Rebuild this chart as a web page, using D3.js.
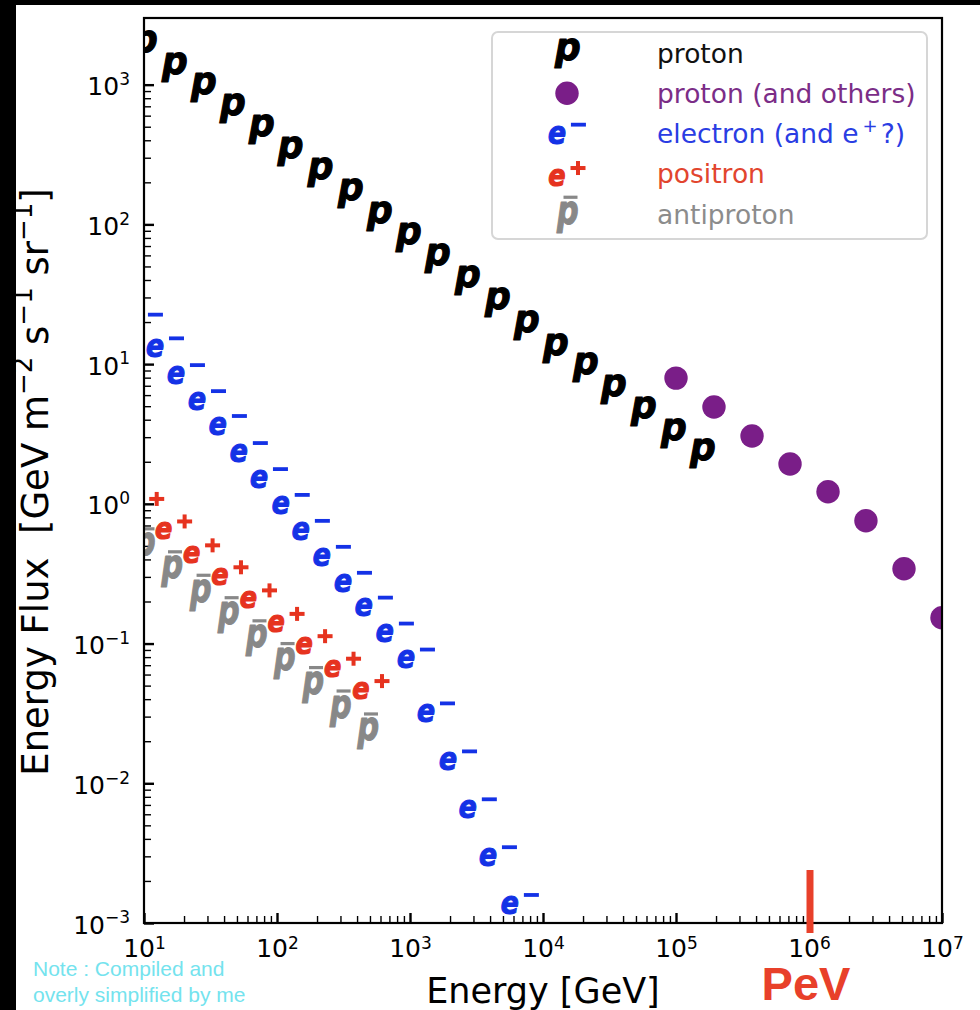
<!DOCTYPE html>
<html>
<head>
<meta charset="utf-8">
<script src="https://cdnjs.cloudflare.com/ajax/libs/d3/7.8.5/d3.min.js"></script>
<style>
  body { margin: 0; background: #000; }
  svg { display: block; }
</style>
</head>
<body>
<svg id="chart" width="980" height="1010"></svg>
<script>
// values: energy in GeV, energy flux in GeV m^-2 s^-1 sr^-1
const protonEnergy = [10, 16.8, 27.8, 45.9, 75.9, 125, 210, 354, 585, 966, 1600, 2690, 4510, 7450, 12300, 20700, 33600, 56400, 94900, 157000];
const protonFlux = [1900, 1320, 952, 674, 477, 332, 235, 166, 114, 80.7, 57.1, 39.8, 27.7, 19.0, 13.0, 9.52, 6.63, 4.61, 3.21, 2.31];

const allEnergy = [1e5, 1.93e5, 3.73e5, 7.2e5, 1.39e6, 2.68e6, 5.18e6, 1e7];
const allFlux = [7.94, 4.93, 3.06, 1.93, 1.22, 0.756, 0.343, 0.153];

const electronEnergy = [10, 14.4, 20.7, 29.8, 42.8, 61.5, 87.1, 127, 180, 259, 373, 536, 771, 1110, 1570, 2300, 3240, 4590, 6710];
const electronFlux = [19.5, 13.2, 8.49, 5.53, 3.67, 2.35, 1.53, 1.0, 0.652, 0.425, 0.277, 0.184, 0.120, 0.0782, 0.0322, 0.0146, 0.00663, 0.00301, 0.00137];

const positronEnergy = [10.3, 16.7, 27.1, 44.3, 72.6, 117, 190, 311, 509];
const positronFlux = [0.984, 0.679, 0.458, 0.319, 0.218, 0.148, 0.1025, 0.0707, 0.0489];

const antiprotonEnergy = [10, 16.1, 26.4, 42.9, 69.5, 113, 185, 298, 479];
const antiprotonFlux = [0.501, 0.343, 0.233, 0.161, 0.110, 0.0756, 0.0509, 0.0346, 0.0237];

const xTickExps = [1, 2, 3, 4, 5, 6, 7];
const yTickExps = [-3, -2, -1, 0, 1, 2, 3];

const legendLabels = ["proton", "proton (and others)", "electron (and e", "positron", "antiproton"];
const pevEnergy = 1e6;

const W = 980, H = 1010;
const margin = { top: 18, right: 38, bottom: 87, left: 144 };
const plot = { width: W - margin.left - margin.right, height: H - margin.top - margin.bottom };
const colors = { proton: "#000", all: "#7a1e88", electron: "#1432e6", positron: "#e6331f", antiproton: "#888888" };
const FONT = "DejaVu Sans";

const svg = d3.select("#chart");
svg.append("rect").attr("x", 16).attr("y", 5).attr("width", W - 16).attr("height", H - 5).attr("fill", "#fff");

svg.append("defs").append("clipPath").attr("id", "plotClip")
  .append("rect").attr("width", plot.width).attr("height", plot.height);

const x = d3.scaleLog().domain([10, 1e7]).range([0, plot.width]);
const y = d3.scaleLog().domain([1e-3, 3000]).range([plot.height, 0]);

const g = svg.append("g").attr("transform", `translate(${margin.left},${margin.top})`);

// ---- axes ----
const expText = (e) => (e < 0 ? "\u2212" + -e : String(e));

const xMinor = x.ticks().filter((v) => Math.abs(Math.log10(v) % 1) > 1e-6);
const yMinor = y.ticks().filter((v) => Math.abs(Math.log10(v) % 1) > 1e-6 && v < 1000);

const xAxisG = g.append("g").attr("transform", `translate(0,${plot.height})`);
xAxisG.append("g").call(d3.axisBottom(x).tickValues(xMinor).tickSizeInner(-7).tickSizeOuter(0).tickFormat(""))
  .call((s) => s.select(".domain").remove())
  .selectAll("line").attr("stroke-width", 1.4);
xAxisG.append("g")
  .call(d3.axisBottom(x).tickValues(xTickExps.map((e) => Math.pow(10, e))).tickSizeInner(-10).tickSizeOuter(0).tickFormat(() => "10"))
  .call((s) => s.select(".domain").remove())
  .call((s) => s.selectAll("line").attr("stroke-width", 2.4))
  .selectAll("text")
  .attr("y", 34).attr("dy", null)
  .attr("font-size", 25).attr("font-family", FONT).attr("fill", "#000")
  .each(function (d, i) {
    d3.select(this).append("tspan").attr("dy", "-0.45em").attr("font-size", "0.68em").text(expText(xTickExps[i]));
  });

const yAxisG = g.append("g");
yAxisG.append("g").call(d3.axisLeft(y).tickValues(yMinor).tickSizeInner(-7).tickSizeOuter(0).tickFormat(""))
  .call((s) => s.select(".domain").remove())
  .selectAll("line").attr("stroke-width", 1.4);
yAxisG.append("g")
  .call(d3.axisLeft(y).tickValues(yTickExps.map((e) => Math.pow(10, e))).tickSizeInner(-10).tickSizeOuter(0).tickFormat(() => "10"))
  .call((s) => s.select(".domain").remove())
  .call((s) => s.selectAll("line").attr("stroke-width", 2.4))
  .selectAll("text")
  .attr("x", -14).attr("dy", "0.4em")
  .attr("font-size", 25).attr("font-family", FONT).attr("fill", "#000")
  .each(function (d, i) {
    d3.select(this).append("tspan").attr("dy", "-0.6em").attr("font-size", "0.68em").text(expText(yTickExps[i]));
  });

// ---- text markers (letters with bars), sized from the ink box of the glyph ----
const GLYPH_STROKE = 1.2;
const ctx = document.createElement("canvas").getContext("2d");
function glyphFit(ch, w, h) {
  ctx.font = `italic bold 100px "${FONT}"`;
  const m = ctx.measureText(ch);
  const k = (h - GLYPH_STROKE) / (m.actualBoundingBoxAscent + m.actualBoundingBoxDescent);
  return {
    ch,
    size: 100 * k,
    sx: (w - GLYPH_STROKE) / ((m.actualBoundingBoxLeft + m.actualBoundingBoxRight) * k),
    dx: (-(m.actualBoundingBoxRight - m.actualBoundingBoxLeft) / 2) * k,
    dy: ((m.actualBoundingBoxAscent - m.actualBoundingBoxDescent) / 2) * k,
  };
}

const markerSpecs = {
  proton: { glyph: glyphFit("p", 26, 30), w: 26, h: 30, bars: [] },
  electron: { glyph: glyphFit("e", 17.7, 19.5), w: 17.7, h: 19.5, bars: [{ cx: 21.5, cy: -10, w: 15, h: 3.8 }] },
  positron: { glyph: glyphFit("e", 17, 18.5), w: 17, h: 18.5, bars: [{ cx: 21, cy: -9.5, w: 15, h: 4 }, { cx: 21, cy: -9.5, w: 4, h: 14 }] },
  antiproton: { glyph: glyphFit("p", 22, 32), w: 22, h: 32, bars: [{ cx: 3.5, cy: -19.5, w: 14, h: 3.2 }] },
};
for (const key in markerSpecs) {
  const s = markerSpecs[key];
  let x0 = -s.w / 2, x1 = s.w / 2, y0 = -s.h / 2, y1 = s.h / 2;
  s.bars.forEach((b) => {
    x0 = Math.min(x0, b.cx - b.w / 2); x1 = Math.max(x1, b.cx + b.w / 2);
    y0 = Math.min(y0, b.cy - b.h / 2); y1 = Math.max(y1, b.cy + b.h / 2);
  });
  s.ux = (x0 + x1) / 2;
  s.uy = (y0 + y1) / 2;
}

function addMarker(sel, spec, color) {
  const gl = spec.glyph;
  sel.append("g")
    .attr("transform", `scale(${gl.sx},1)`)
    .append("text")
    .attr("x", gl.dx).attr("y", gl.dy)
    .attr("font-family", FONT).attr("font-weight", "bold").attr("font-style", "italic")
    .attr("font-size", gl.size).attr("fill", color)
    .attr("stroke", color).attr("stroke-width", GLYPH_STROKE).attr("stroke-linejoin", "round")
    .text(gl.ch);
  spec.bars.forEach((b) => {
    sel.append("rect")
      .attr("x", b.cx - b.w / 2).attr("y", b.cy - b.h / 2)
      .attr("width", b.w).attr("height", b.h).attr("fill", color);
  });
}

const dataLayer = g.append("g").attr("clip-path", "url(#plotClip)");

function drawTextSeries(energy, flux, spec, color) {
  const pts = energy.map((e, i) => ({ e, f: flux[i] }));
  dataLayer.append("g").selectAll("g").data(pts).join("g")
    .attr("transform", (d) => `translate(${x(d.e) - spec.ux},${y(d.f) - spec.uy})`)
    .each(function () { addMarker(d3.select(this), spec, color); });
}

drawTextSeries(protonEnergy, protonFlux, markerSpecs.proton, colors.proton);
dataLayer.append("g").selectAll("circle")
  .data(allEnergy.map((e, i) => ({ e, f: allFlux[i] })))
  .join("circle")
  .attr("cx", (d) => x(d.e)).attr("cy", (d) => y(d.f))
  .attr("r", 11.7).attr("fill", colors.all);
drawTextSeries(electronEnergy, electronFlux, markerSpecs.electron, colors.electron);
drawTextSeries(positronEnergy, positronFlux, markerSpecs.positron, colors.positron);
drawTextSeries(antiprotonEnergy, antiprotonFlux, markerSpecs.antiproton, colors.antiproton);

// frame
g.append("rect").attr("width", plot.width).attr("height", plot.height)
  .attr("fill", "none").attr("stroke", "#000").attr("stroke-width", 2.2);

// ---- legend ----
const legend = svg.append("g").attr("transform", "translate(492,32)");
legend.append("rect").attr("width", 435).attr("height", 207).attr("rx", 6)
  .attr("fill", "#fff").attr("fill-opacity", 0.85).attr("stroke", "#d6d6d6").attr("stroke-width", 2);

const legendKeys = ["proton", "all", "electron", "positron", "antiproton"];
const legendText = { proton: "#111", all: "#7b2d87", electron: "#2a3de3", positron: "#e2452e", antiproton: "#8c8c8c" };
legendKeys.forEach((key, i) => {
  const cy = 21 + i * 40.3;
  const row = legend.append("g");
  if (key === "all") {
    row.append("circle").attr("cx", 75).attr("cy", cy).attr("r", 11.7).attr("fill", colors.all);
  } else {
    const spec = markerSpecs[key];
    addMarker(row.append("g").attr("transform", `translate(${75 - spec.ux},${cy - spec.uy})`), spec, colors[key]);
  }
  const t = row.append("text").attr("x", 165).attr("y", cy + 9.5)
    .attr("font-family", FONT).attr("font-size", 26.5).attr("fill", legendText[key])
    .text(legendLabels[i]);
  if (key === "electron") {
    t.append("tspan").attr("dx", 4).attr("dy", -11).attr("font-size", 18).text("+");
    t.append("tspan").attr("dx", 3).attr("dy", 11).text("?)");
  }
});

// ---- axis titles and annotations ----
svg.append("text")
  .attr("x", margin.left + plot.width / 2).attr("y", 1003)
  .attr("text-anchor", "middle").attr("font-family", FONT).attr("font-size", 35).attr("fill", "#000")
  .text("Energy [GeV]");

const yTitle = svg.append("text")
  .attr("transform", "translate(48,482) rotate(-90)")
  .attr("text-anchor", "middle").attr("font-family", FONT).attr("font-size", 37).attr("fill", "#000")
  .style("white-space", "pre");
yTitle.append("tspan").text("Energy Flux  [GeV m");
[["\u22122", " s"], ["\u22121", " sr"], ["\u22121", "]"]].forEach(([sup, after]) => {
  yTitle.append("tspan").attr("dy", -16).attr("font-size", 26).text(sup);
  yTitle.append("tspan").attr("dy", 16).text(after);
});

svg.append("line")
  .attr("x1", margin.left + x(pevEnergy) + 1).attr("x2", margin.left + x(pevEnergy) + 1)
  .attr("y1", margin.top + plot.height - 53).attr("y2", margin.top + plot.height + 10)
  .attr("stroke", "#e8402a").attr("stroke-width", 7);
svg.append("text")
  .attr("x", margin.left + x(pevEnergy) - 3).attr("y", 1000)
  .attr("text-anchor", "middle").attr("font-family", "Liberation Sans").attr("font-weight", "bold")
  .attr("font-size", 47).attr("fill", "#e8402a")
  .text("PeV");

const note = svg.append("text").attr("font-family", "Liberation Sans").attr("font-size", 21).attr("fill", "#74e3ee");
note.append("tspan").attr("x", 33).attr("y", 976).text("Note : Compiled and");
note.append("tspan").attr("x", 33).attr("y", 1002).text("overly simplified by me");
</script>
</body>
</html>
